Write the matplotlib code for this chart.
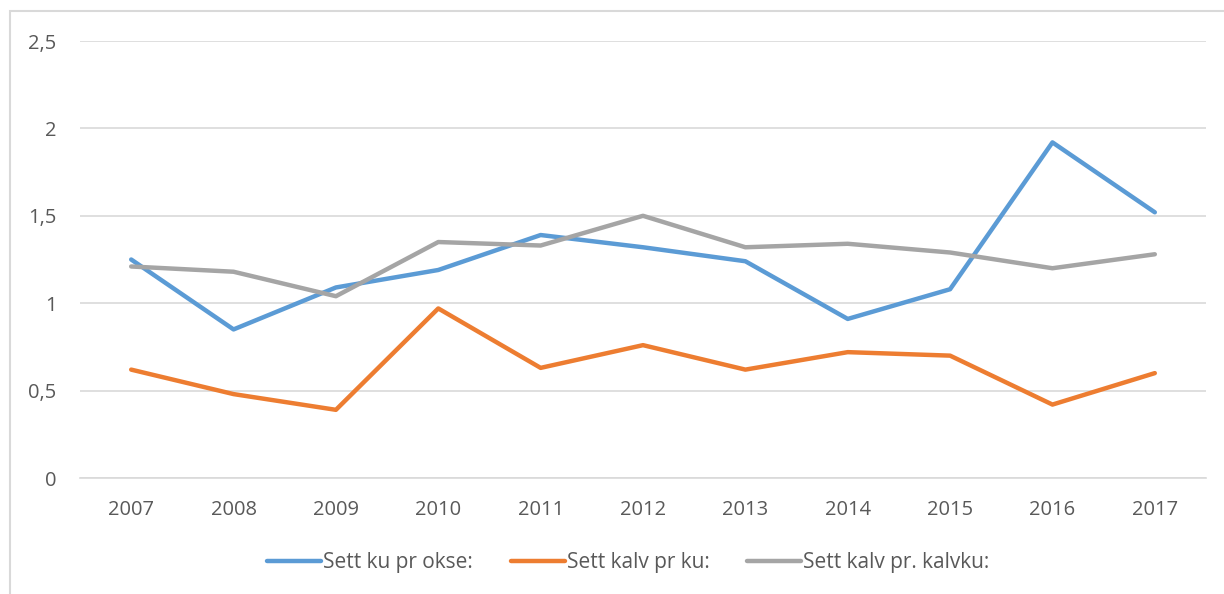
import matplotlib
matplotlib.use("Agg")
from matplotlib import pyplot as plt
from matplotlib.patches import Rectangle
import numpy as np

years = ["2007", "2008", "2009", "2010", "2011", "2012", "2013", "2014", "2015", "2016", "2017"]
ku_pr_okse = [1.25, 0.85, 1.09, 1.19, 1.39, 1.32, 1.24, 0.91, 1.08, 1.92, 1.52]
kalv_pr_ku = [0.62, 0.48, 0.39, 0.97, 0.63, 0.76, 0.62, 0.72, 0.70, 0.42, 0.60]
kalv_pr_kalvku = [1.21, 1.18, 1.04, 1.35, 1.33, 1.50, 1.32, 1.34, 1.29, 1.20, 1.28]
labels = ["Sett ku pr okse:", "Sett kalv pr ku:", "Sett kalv pr. kalvku:"]
colors = ["#5B9BD5", "#ED7D31", "#A5A5A5"]

plt.rcParams['font.family'] = ['Open Sans', 'DejaVu Sans']
txt = "#595959"

fig = plt.figure(figsize=(12.24, 5.94), dpi=100)
# chart frame (cut off at right and bottom like the screenshot)
fig.patches.append(Rectangle((10/1224, -0.1), 1.2, 1 - 11/594 + 0.1,
                             transform=fig.transFigure, fill=False,
                             edgecolor="#D9D9D9", lw=1.5))

ax = fig.add_axes([80/1224, 1 - 478/594, (1206 - 80)/1224, (478 - 41)/594])
x = np.arange(len(years))
for ys, lab, c in zip([ku_pr_okse, kalv_pr_ku, kalv_pr_kalvku], labels, colors):
    ax.plot(x, ys, color=c, lw=3.2, label=lab, solid_capstyle="round", solid_joinstyle="round")

ax.set_xlim(-0.5, len(years) - 0.5)
ax.set_ylim(0, 2.5)
ax.set_yticks([0, 0.5, 1, 1.5, 2, 2.5])
ax.set_yticklabels(["0", "0,5", "1", "1,5", "2", "2,5"])
ax.set_xticks(x)
ax.set_xticklabels(years)
ax.grid(axis="y", color="#D9D9D9", lw=1.2)
ax.set_axisbelow(True)
for s in ["top", "right", "left"]:
    ax.spines[s].set_visible(False)
ax.spines["bottom"].set_color("#D9D9D9")
ax.spines["bottom"].set_linewidth(1.2)
ax.tick_params(length=0, labelsize=14.5, colors=txt)
ax.tick_params(axis="y", pad=17)
ax.tick_params(axis="x", pad=16)

leg = ax.legend(loc="center", bbox_to_anchor=(0.487, -0.193), ncol=3, frameon=False,
                fontsize=15, handlelength=2.6, handletextpad=0.1, columnspacing=1.8)
for t in leg.get_texts():
    t.set_color(txt)

fig.savefig("out.png", dpi=100)
